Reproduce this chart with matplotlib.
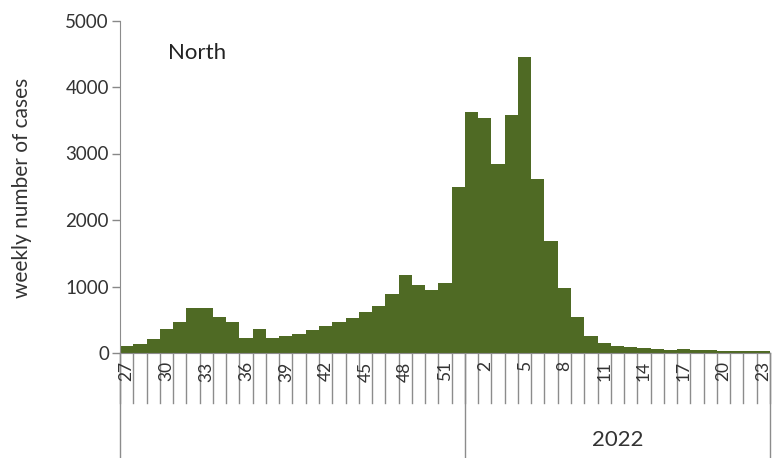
import matplotlib
matplotlib.use("Agg")
import matplotlib.pyplot as plt
import matplotlib.transforms as mtransforms

plt.rcParams['font.family'] = ['Lato', 'DejaVu Sans']

# ---- data ----
weeks = [27, 28, 29, 30, 31, 32, 33, 34, 35, 36, 37, 38, 39, 40, 41, 42, 43, 44, 45, 46,
         47, 48, 49, 50, 51, 52,
         1, 2, 3, 4, 5, 6, 7, 8, 9, 10, 11, 12, 13, 14, 15, 16, 17, 18, 19, 20, 21, 22, 23]
cases = [100, 140, 210, 360, 460, 670, 670, 545, 470, 230, 355, 230, 260, 290, 340, 400,
         470, 530, 610, 710, 880, 1180, 1030, 950, 1060, 2500,
         3620, 3540, 2840, 3580, 4450, 2610, 1680, 975, 545, 255, 150, 110, 85, 70, 60,
         45, 65, 45, 40, 35, 35, 30, 30]
year_groups = ["", "2022"]
year_sizes = [26, 23]
region = "North"
y_label = "weekly number of cases"
y_ticks = [0, 1000, 2000, 3000, 4000, 5000]

W, H = 772, 458
fig = plt.figure(figsize=(W / 100, H / 100), dpi=100)
ax_h = (353 - 20.5)
ax = fig.add_axes([120 / W, 1 - 353 / H, (770 - 120) / W, ax_h / H])

n = len(weeks)
pos = [i + 0.5 for i in range(n)]
ax.bar(pos, cases, width=1.0, color="#4f6a24", edgecolor="none", zorder=2)

ax.set_xlim(0, n)
ax.set_ylim(0, 5000)
ax.set_yticks(y_ticks)
ax.set_yticklabels([str(v) for v in y_ticks], fontsize=13.5, color="#333333")
ax.tick_params(axis="y", length=6, width=1, color="#888888", pad=2)

grey = "#8c8c8c"
for s in ["top", "right"]:
    ax.spines[s].set_visible(False)
ax.spines["left"].set_color(grey)
ax.spines["bottom"].set_color(grey)

# category labels every 3rd week
lab_idx = [i for i in range(0, n, 3)]
ax.set_xticks([pos[i] for i in lab_idx])
ax.set_xticklabels([str(weeks[i]) for i in lab_idx], rotation=90, fontsize=12.5,
                   color="#333333", va="top")
ax.tick_params(axis="x", length=0, pad=6)

# boundary tick lines
trans = mtransforms.blended_transform_factory(ax.transData, ax.transAxes)
tick_depth = (403 - 353) / ax_h
for b in range(n + 1):
    ax.plot([b, b], [0, -tick_depth], transform=trans, color=grey, lw=1,
            clip_on=False, zorder=1)

# year group dividers and labels
group_depth = (460 - 353) / ax_h
edges = [0]
for sz in year_sizes:
    edges.append(edges[-1] + sz)
for e in edges:
    ax.plot([e, e], [0, -group_depth], transform=trans, color=grey, lw=1,
            clip_on=False, zorder=1)
for g, a, b in zip(year_groups, edges[:-1], edges[1:]):
    if g:
        ax.text((a + b) / 2, -(440 - 353) / ax_h, g, transform=trans,
                ha="center", va="center", fontsize=16, color="#333333")

fig.text(22 / W, 1 - 188 / H, y_label, rotation=90, ha="center", va="center",
         fontsize=15, color="#333333")

fig.text(168 / W, 1 - 53 / H, region, ha="left", va="center", fontsize=16,
         color="#222222")

fig.savefig("out.png", dpi=100)
